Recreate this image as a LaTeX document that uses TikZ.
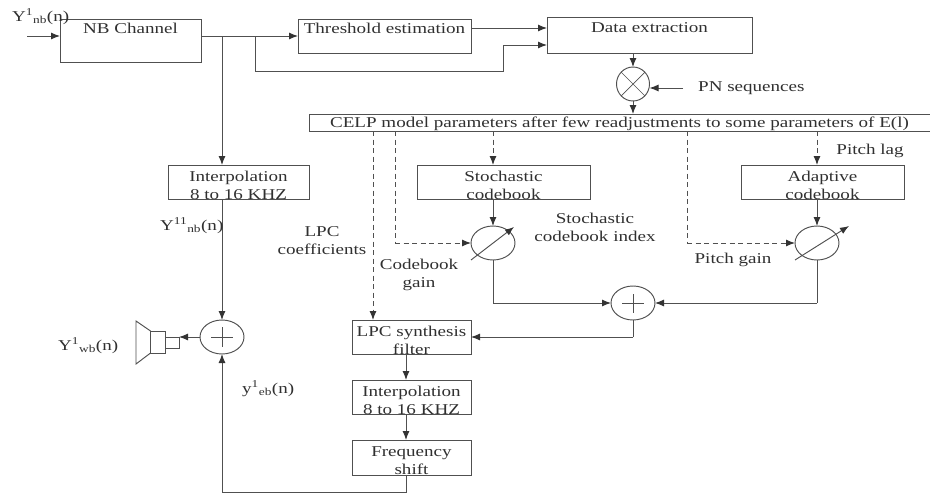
\documentclass[tikz,border=0pt]{standalone}
\usepackage{fontspec}
\setmainfont[FakeStretch=1.27]{Liberation Serif}
\usetikzlibrary{arrows.meta,shapes.geometric}
\newcommand{\oneline}[2]{\raisebox{#1}[0pt][0pt]{#2}}
\newcommand{\twolines}[2]{\raisebox{-8pt}[0pt][0pt]{\begin{tabular}{@{}c@{}}#1\\#2\end{tabular}}}
\tikzset{
  conn/.style={draw=linecol,line width=0.95pt},
  arr/.style={conn,-{Latex[length=9pt,width=7pt,color=black!80]}},
  darr/.style={arr,dash pattern=on 5pt off 3.5pt},
  dline/.style={conn,dash pattern=on 5pt off 3.5pt},
  blk/.style={draw=linecol,line width=0.95pt,rectangle,inner sep=0pt,outer sep=0pt,text=txtcol,font=\fontsize{15}{18}\selectfont},
  circ/.style={draw=linecol,line width=0.95pt,ellipse,inner sep=0pt,outer sep=0pt,minimum width=44pt,minimum height=34pt},
  lbl/.style={text=txtcol,inner sep=0pt,font=\fontsize{15}{18}\selectfont,align=center},
  thin mark/.style={draw=linecol,line width=0.7pt}
}
\definecolor{linecol}{HTML}{505050}
\definecolor{txtcol}{HTML}{303030}
\begin{document}
\begin{tikzpicture}[x=1pt,y=-1pt]
\useasboundingbox (0,0) rectangle (930,493);
% blocks
\node[blk,minimum width=141pt,minimum height=43pt] (nb) at (130.5,40.5) {\oneline{7pt}{NB Channel}};
\node[blk,minimum width=173pt,minimum height=34pt] (thr) at (384.5,36) {\oneline{3pt}{Threshold estimation}};
\node[blk,minimum width=205pt,minimum height=36pt] (data) at (649.5,35) {\oneline{3pt}{Data extraction}};
\node[blk,minimum width=621pt,minimum height=17pt] (celp) at (619.5,122.5) {\oneline{-5pt}{CELP model parameters after few readjustments to some parameters of E(l)}};
\node[blk,minimum width=141pt,minimum height=34pt] (interp) at (238.5,182) {\twolines{Interpolation}{8 to 16 KHZ}};
\node[blk,minimum width=173pt,minimum height=34pt] (stoch) at (503.5,182) {\twolines{Stochastic}{codebook}};
\node[blk,minimum width=163pt,minimum height=34pt] (adapt) at (822.5,182) {\twolines{Adaptive}{codebook}};
\node[blk,minimum width=119pt,minimum height=34pt] (lpc) at (411.5,337) {\twolines{LPC synthesis}{filter}};
\node[blk,minimum width=119pt,minimum height=34pt] (interpb) at (411.5,397) {\twolines{Interpolation}{8 to 16 KHZ}};
\node[blk,minimum width=119pt,minimum height=35pt] (freq) at (411.5,457.5) {\twolines{Frequency}{shift}};
% round elements
\node[circ,minimum width=33pt] (mult) at (633,84) {};
\node[circ] (gs) at (493,243) {};
\node[circ] (ga) at (817,243) {};
\node[circ] (add) at (633,303) {};
\node[circ] (oadd) at (222,337) {};
\draw[thin mark] (mult.45) -- (mult.225) (mult.135) -- (mult.315);
\draw[thin mark] (622,303) -- (644,303) (633,294) -- (633,313);
\draw[thin mark] (211,337) -- (233,337) (222,327) -- (222,347);
% speaker
\node[blk,minimum width=14pt,minimum height=11pt] (spk) at (172,342.5) {};
\node[blk,minimum width=14.5pt,minimum height=22pt] (spkb) at (157.8,342) {};
\draw[conn,line join=miter] (spkb.north west) -- (136,321) -- (136,364) -- (spkb.south west);
% dial arrows
\coordinate (da1) at (471,260); \coordinate (da2) at (514,227);
\coordinate (db1) at (795,260); \coordinate (db2) at (849,226);
\draw[arr] (da1) -- (da2);
\draw[arr] (db1) -- (db2);
% port coordinates
\coordinate (inp) at (27,36);
\coordinate (nbo) at (201,36);
\coordinate (thi) at (298,36);
\coordinate (tho) at (471,28);
\coordinate (dai) at (547,28);
\coordinate (daj) at (547,45);
\coordinate (bra) at (255,36);
\coordinate (brb) at (255,71);
\coordinate (brc) at (503,71);
\coordinate (brd) at (503,45);
\coordinate (pn) at (683,88);
\coordinate (lpx) at (373,320);
\coordinate (gdx) at (395,243);
\coordinate (pgx) at (687,243);
\coordinate (lpb) at (406,354);
\coordinate (bot) at (406,492);
\coordinate (spx) at (222,492);
% connectors
\draw[arr] (inp) -- (nb.west |- inp);
\draw[arr] (nbo) -- (thi);
\draw[arr] (oadd.north |- nbo) -- (oadd.north |- interp.north);
\draw[conn] (bra) -- (brb) -- (brc) -- (brd);
\draw[arr] (brd) -- (daj);
\draw[arr] (tho) -- (dai);
\draw[arr] (mult.north |- data.south) -- (mult.north);
\draw[arr] (mult.south) -- (mult.south |- celp.north);
\draw[arr] (pn) -- (mult.east |- pn);
\draw[arr] (oadd.north |- interp.south) -- (oadd.north);
\draw[arr] (oadd.west) -- (oadd.west -| spk.east);
\draw[darr] (lpx |- celp.south) -- (lpx);
\draw[dline] (gdx |- celp.south) -- (gdx);
\draw[darr] (gdx) -- (gs.west);
\draw[darr] (gs.north |- celp.south) -- (gs.north |- stoch.north);
\draw[dline] (pgx |- celp.south) -- (pgx);
\draw[darr] (pgx) -- (ga.west);
\draw[darr] (ga.north |- celp.south) -- (ga.north |- adapt.north);
\draw[arr] (gs.north |- stoch.south) -- (gs.north);
\draw[arr] (ga.north |- adapt.south) -- (ga.north);
\draw[conn] (gs.south) -- (gs.south |- add.west);
\draw[arr] (gs.south |- add.west) -- (add.west);
\draw[conn] (ga.south) -- (ga.south |- add.east);
\draw[arr] (ga.south |- add.east) -- (add.east);
\draw[conn] (add.south) -- (add.south |- lpc.east);
\draw[arr] (add.south |- lpc.east) -- (lpc.east);
\draw[arr] (lpb) -- (lpb |- interpb.north);
\draw[arr] (lpb |- interpb.south) -- (lpb |- freq.north);
\draw[conn] (lpb |- freq.south) -- (bot) -- (spx);
\draw[arr] (spx) -- (oadd.south);
% labels
\node[lbl,anchor=base west] (l1) at (12,21) {Y\textsuperscript{1}\textsubscript{nb}(n)};
\node[lbl,anchor=base west] (l2) at (160,230) {Y\textsuperscript{11}\textsubscript{nb}(n)};
\node[lbl] (l3) at (322,241) {LPC\\coefficients};
\node[lbl] (l4) at (419,275) {Codebook\\gain};
\node[lbl] (l5) at (595,227) {Stochastic\\codebook index};
\node[lbl,anchor=base] (l6) at (733,263) {Pitch gain};
\node[lbl,anchor=base] (l7) at (870,154) {Pitch lag};
\node[lbl,anchor=base west] (l8) at (698,91) {PN sequences};
\node[lbl,anchor=base west] (l9) at (58,350) {Y\textsuperscript{1}\textsubscript{wb}(n)};
\node[lbl,anchor=base west] (l10) at (242,393) {y\textsuperscript{1}\textsubscript{eb}(n)};
\end{tikzpicture}
\end{document}
